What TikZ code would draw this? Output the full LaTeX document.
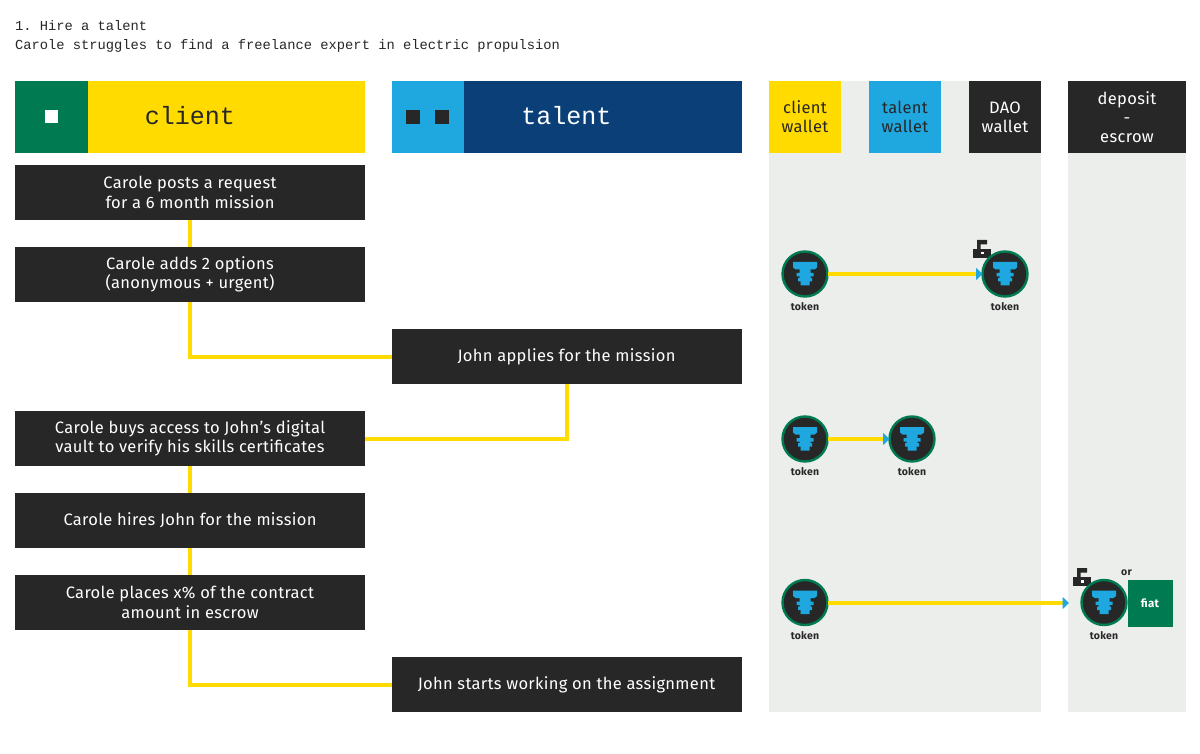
\documentclass[tikz,border=0pt]{standalone}
\usepackage{fontspec}
\setmainfont{Fira Sans}[LetterSpace=2]
\setmonofont{Liberation Mono}
\usetikzlibrary{arrows.meta}
\definecolor{inkdark}{HTML}{272727}
\definecolor{sunyellow}{HTML}{FFDB00}
\definecolor{skyblue}{HTML}{1FA8DF}
\definecolor{navyblue}{HTML}{0B3F78}
\definecolor{leafgreen}{HTML}{007A50}
\definecolor{panelgray}{HTML}{ECEEEC}
\tikzset{
	every node/.style={inner sep=0pt, outer sep=0pt},
	stepbox/.style={fill=inkdark, text=white, minimum width=350, minimum height=55, align=center, font=\fontsize{16.5}{19.3}\selectfont},
	headbox/.style={minimum width=350, minimum height=72, text depth=3, font=\fontsize{25}{30}\ttfamily},
	headtab/.style={minimum width=72.5, minimum height=72},
	walletbox/.style={minimum width=72, minimum height=72, align=center, font=\fontsize{16.5}{19.3}\selectfont},
	tokendisc/.style={circle, fill=inkdark, draw=leafgreen, line width=2.4, minimum size=45},
	tokenlabel/.style={font=\fontsize{10.5}{13}\selectfont\bfseries, text=inkdark},
	wire/.style={draw=sunyellow, line width=4},
	flow/.style={draw=sunyellow, line width=4, -{Triangle[color=skyblue, length=6.5, width=12]}},
	tokenmark/.pic={
		\fill[skyblue] (-12,-12) -- (12,-12) -- (12,-6.5) -- (9.5,-4.5) -- (5.5,-4.5) -- (5.5,-1) -- (8.5,-1) -- (8.5,2.5) -- (5.5,2.5) -- (5.5,4) -- (7,4) -- (7,7.5) -- (4.5,7.5) -- (4.5,11.5) -- (-4.5,11.5) -- (-4.5,7.5) -- (-7,7.5) -- (-7,4) -- (-5.5,4) -- (-5.5,2.5) -- (-8.5,2.5) -- (-8.5,-1) -- (-5.5,-1) -- (-5.5,-4.5) -- (-9.5,-4.5) -- (-12,-6.5) -- cycle;
	},
	padlock/.pic={
		\fill[inkdark] (-9,-4) rectangle (9,5);
		\fill[inkdark] (-5,-4) -- (-5,-13) -- (5,-13) -- (5,-8.5) -- (-1.5,-8.5) -- (-1.5,-4) -- cycle;
		\fill[white] (-1,-1) rectangle (1.5,1.5);
	}
}
\begin{document}
\begin{tikzpicture}[x=1pt, y=-1pt]
	\useasboundingbox[fill=white] (0,0) rectangle (1200,754);
	% title
	\node[anchor=west, font=\fontsize{13.76}{16}\ttfamily, text=inkdark] (title) at (15,25.5) {1. Hire a talent};
	\node[anchor=west, font=\fontsize{13.76}{16}\ttfamily, text=inkdark] (subtitle) at (15,45.5) {Carole struggles to find a freelance expert in electric propulsion};
	% wallet panels
	\fill[panelgray] (769,81) rectangle (1041,712);
	\fill[panelgray] (1068,81) rectangle (1186,712);
	% column heads
	\node[headbox, fill=sunyellow, text=inkdark] (client) at (190,117) {client};
	\node[headtab, fill=leafgreen, anchor=west] (clienttab) at (client.west) {};
	\fill[white] (45,110) rectangle (58,123);
	\node[headbox, fill=navyblue, text=white] (talent) at (566.5,117) {talent};
	\node[headtab, fill=skyblue, anchor=west] (talenttab) at (talent.west) {};
	\foreach \x in {406, 435}
	\fill[inkdark] (\x,110) rectangle (\x+14,124);
	\node[walletbox, fill=sunyellow, text=inkdark] (clientwallet) at (805,117) {client\\wallet};
	\node[walletbox, fill=skyblue, text=inkdark] (talentwallet) at (905,117) {talent\\wallet};
	\node[walletbox, fill=inkdark, text=white] (daowallet) at (1005,117) {DAO\\wallet};
	\node[walletbox, fill=inkdark, text=white, minimum width=118] (escrow) at (1127,117) {deposit\\-\\escrow};
	% steps
	\node[stepbox] (posts) at (190,192.5) {Carole posts a request\\for a 6 month mission};
	\node[stepbox] (adds) at (190,274.5) {Carole adds 2 options\\(anonymous + urgent)};
	\node[stepbox] (applies) at (566.5,356.5) {John applies for the mission};
	\node[stepbox] (vault) at (190,438.5) {Carole buys access to John’s digital\\vault to verify his skills certificates};
	\node[stepbox] (hires) at (190,520.5) {Carole hires John for the mission};
	\node[stepbox] (places) at (190,602.5) {Carole places x\% of the contract\\amount in escrow};
	\node[stepbox] (starts) at (566.5,684.5) {John starts working on the assignment};
	\draw[wire] (posts) -- (adds);
	\draw[wire] (adds.south) |- (applies.west);
	\draw[wire] (applies.south) |- (vault.east);
	\draw[wire] (vault) -- (hires);
	\draw[wire] (hires) -- (places);
	\draw[wire] (places.south) |- (starts.west);
	% locks go under the tokens
	\pic at (982,253) {padlock};
	\pic at (1082,581) {padlock};
	% fiat
	\node[fill=leafgreen, text=white, minimum width=45, minimum height=47, font=\fontsize{11.5}{13}\selectfont\bfseries] (fiat) at (1150,603.5) {fiat};
	\node[tokenlabel] (orlabel) at (1126.5,573) {or};
	% tokens
	\foreach \name/\x/\y in {tokenA/805/274, tokenB/1005/274, tokenC/805/439, tokenD/912/439, tokenE/805/602.5, tokenF/1104/602.5}{
		\node[tokendisc] (\name) at (\x,\y) {};
		\pic at (\name) {tokenmark};
		\node[tokenlabel] (\name label) at (\x,\y+33) {token};
	}
	\coordinate (escrowedge) at (1069,603);
	\draw[flow] (tokenA) -- (tokenB);
	\draw[flow] (tokenC) -- (tokenD);
	\draw[flow] (tokenE.east |- escrowedge) -- (escrowedge);
\end{tikzpicture}
\end{document}
